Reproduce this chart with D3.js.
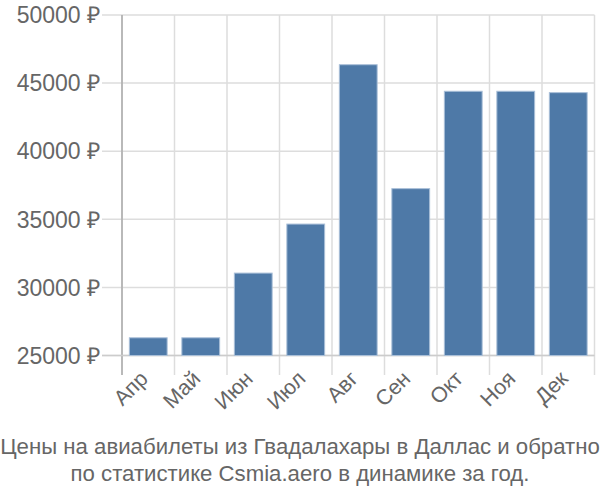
<!DOCTYPE html>
<html><head><meta charset="utf-8">
<script src="https://cdn.jsdelivr.net/npm/d3@7"></script>
<style>body{margin:0;background:#fff;} svg{display:block;} text{font-family:"Liberation Sans",Arial,sans-serif;}</style>
</head><body>
<script>
const months = ["Апр","Май","Июн","Июл","Авг","Сен","Окт","Ноя","Дек"];
const prices = [26300, 26300, 31050, 34650, 46350, 37250, 44400, 44400, 44300];
const yTicks = [25000, 30000, 35000, 40000, 45000, 50000];
const caption = ["Цены на авиабилеты из Гвадалахары в Даллас и обратно", "по статистике Csmia.aero в динамике за год."];

const W = 600, H = 500;
const svg = d3.select("body").append("svg").attr("width", W).attr("height", H);
const x0 = 122, x1 = 594.5, yTop = 15, yBot = 355.5;
const x = d3.scaleBand().domain(months).range([x0, x1]).paddingInner(0.28).paddingOuter(0.14);
const y = d3.scaleLinear().domain([25000, 50000]).range([yBot, yTop]);
const step = x.step();

svg.append("g").selectAll("line").data(yTicks).join("line")
  .attr("x1", 102).attr("x2", x1).attr("y1", d => y(d)).attr("y2", d => y(d))
  .attr("stroke", "#ddd").attr("stroke-width", 1.5);
svg.append("g").selectAll("line").data(d3.range(months.length + 1)).join("line")
  .attr("x1", i => x0 + i * step).attr("x2", i => x0 + i * step)
  .attr("y1", yTop).attr("y2", 375)
  .attr("stroke", "#ddd").attr("stroke-width", 1.5);
svg.append("line").attr("x1", x0).attr("x2", x0).attr("y1", yTop).attr("y2", 375)
  .attr("stroke", "#aaa").attr("stroke-width", 1.5);
svg.append("line").attr("x1", 102).attr("x2", x1).attr("y1", yBot).attr("y2", yBot)
  .attr("stroke", "#ccc").attr("stroke-width", 1.5);

svg.append("g").selectAll("rect").data(months).join("rect")
  .attr("x", (d) => x(d)).attr("width", x.bandwidth())
  .attr("y", (d, i) => y(prices[i])).attr("height", (d, i) => yBot - y(prices[i]))
  .attr("fill", "#4e79a7").attr("stroke", "#a9bfd8").attr("stroke-width", 1);

svg.append("g").selectAll("text").data(yTicks).join("text")
  .attr("x", 100).attr("y", d => y(d)).attr("dy", "0.36em")
  .attr("text-anchor", "end").attr("font-size", 23).attr("fill", "#666")
  .text(d => d + " ₽");

svg.append("g").selectAll("text").data(months).join("text")
  .attr("transform", d => `translate(${x(d) + x.bandwidth() / 2 + 1},${380}) rotate(-45)`)
  .attr("text-anchor", "end").attr("font-size", 21.5).attr("fill", "#666")
  .text(d => d);

svg.append("g").selectAll("text").data(caption).join("text")
  .attr("x", 300).attr("y", (d, i) => 454 + i * 27)
  .attr("text-anchor", "middle").attr("font-size", 22.2).attr("fill", "#666")
  .text(d => d);
</script>
</body></html>
